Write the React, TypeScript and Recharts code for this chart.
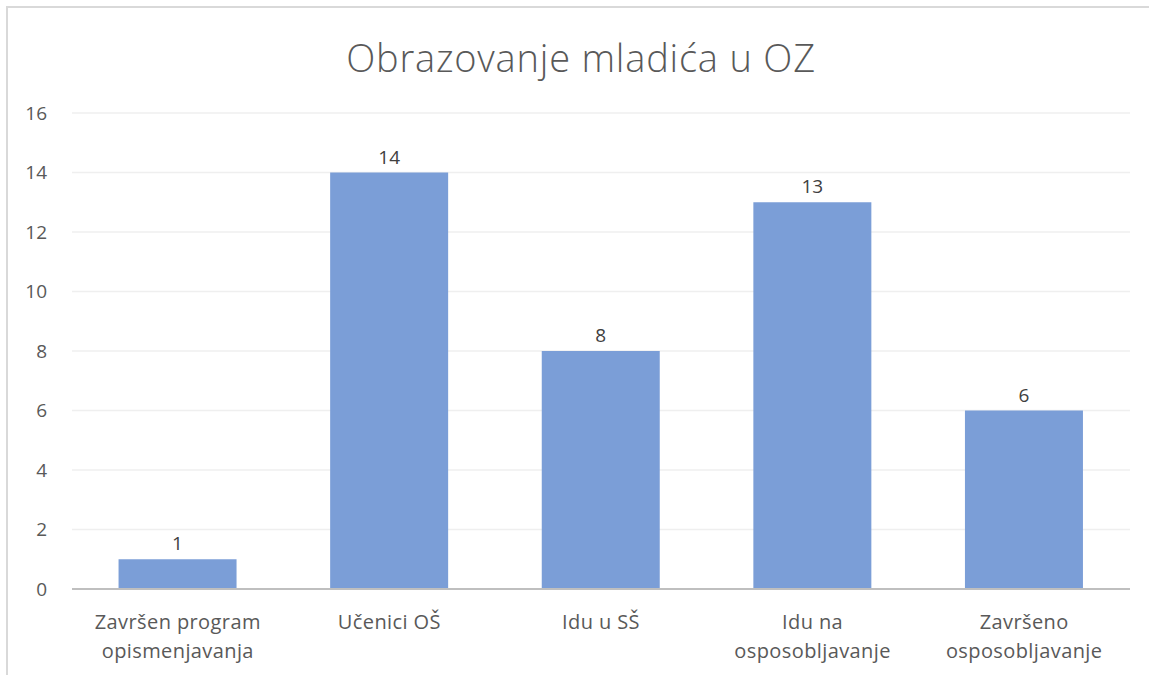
import React from "react";
import { BarChart, Bar, XAxis, YAxis, CartesianGrid, LabelList } from "recharts";

const categories = [
  "Završen program\nopismenjavanja",
  "Učenici OŠ",
  "Idu u SŠ",
  "Idu na\nosposobljavanje",
  "Završeno\nosposobljavanje",
];
const counts = [1, 14, 8, 13, 6];
const yTicks = [0, 2, 4, 6, 8, 10, 12, 14, 16];

const data = categories.map((name, i) => ({ name, value: counts[i] }));

const FONT = "'Open Sans', sans-serif";
const TEXT = "#595959";

function CategoryTick(props: any) {
  const { x, y, payload } = props;
  const lines = String(payload.value).split("\n");
  return (
    <text x={x} y={y} textAnchor="middle" fill={TEXT} fontSize={20} fontFamily={FONT} letterSpacing={0.4}>
      {lines.map((line, i) => (
        <tspan key={i} x={x} dy={i === 0 ? 32 : 29}>
          {line}
        </tspan>
      ))}
    </text>
  );
}

export default function App() {
  return (
    <div style={{ position: "absolute", left: 0, top: 0, width: 1149, height: 675, background: "#fff", overflow: "hidden" }}>
      <div
        style={{
          position: "absolute",
          left: 6,
          top: 6,
          width: 1160,
          height: 690,
          border: "2px solid #d9d9d9",
        }}
      />
      <div
        style={{
          position: "absolute",
          left: 0,
          top: 32,
          width: 1162,
          textAlign: "center",
          fontFamily: FONT,
          fontWeight: 300,
          fontSize: 38,
          letterSpacing: 0.8,
          lineHeight: "50px",
          color: TEXT,
        }}
      >
        Obrazovanje mladića u OZ
      </div>
      <div style={{ position: "absolute", left: 0, top: 0 }}>
        <BarChart
          width={1149}
          height={675}
          data={data}
          margin={{ top: 113, right: 19, bottom: 0, left: 0 }}
          barCategoryGap="22%"
        >
          <CartesianGrid vertical={false} stroke="#efefef" strokeWidth={1.5} />
          <XAxis
            dataKey="name"
            tick={<CategoryTick />}
            tickLine={false}
            axisLine={{ stroke: "#bfbfbf", strokeWidth: 2 }}
            interval={0}
            height={86}
          />
          <YAxis
            width={72}
            domain={[0, 16]}
            ticks={yTicks}
            tickLine={false}
            axisLine={false}
            tickSize={0}
            tickMargin={25}
            tick={{ fill: TEXT, fontSize: 19, fontFamily: FONT }}
          />
          <Bar dataKey="value" fill="#7b9ed7" isAnimationActive={false}>
            <LabelList dataKey="value" position="top" offset={9} fill="#404040" fontSize={19} fontFamily={FONT} />
          </Bar>
        </BarChart>
      </div>
    </div>
  );
}
